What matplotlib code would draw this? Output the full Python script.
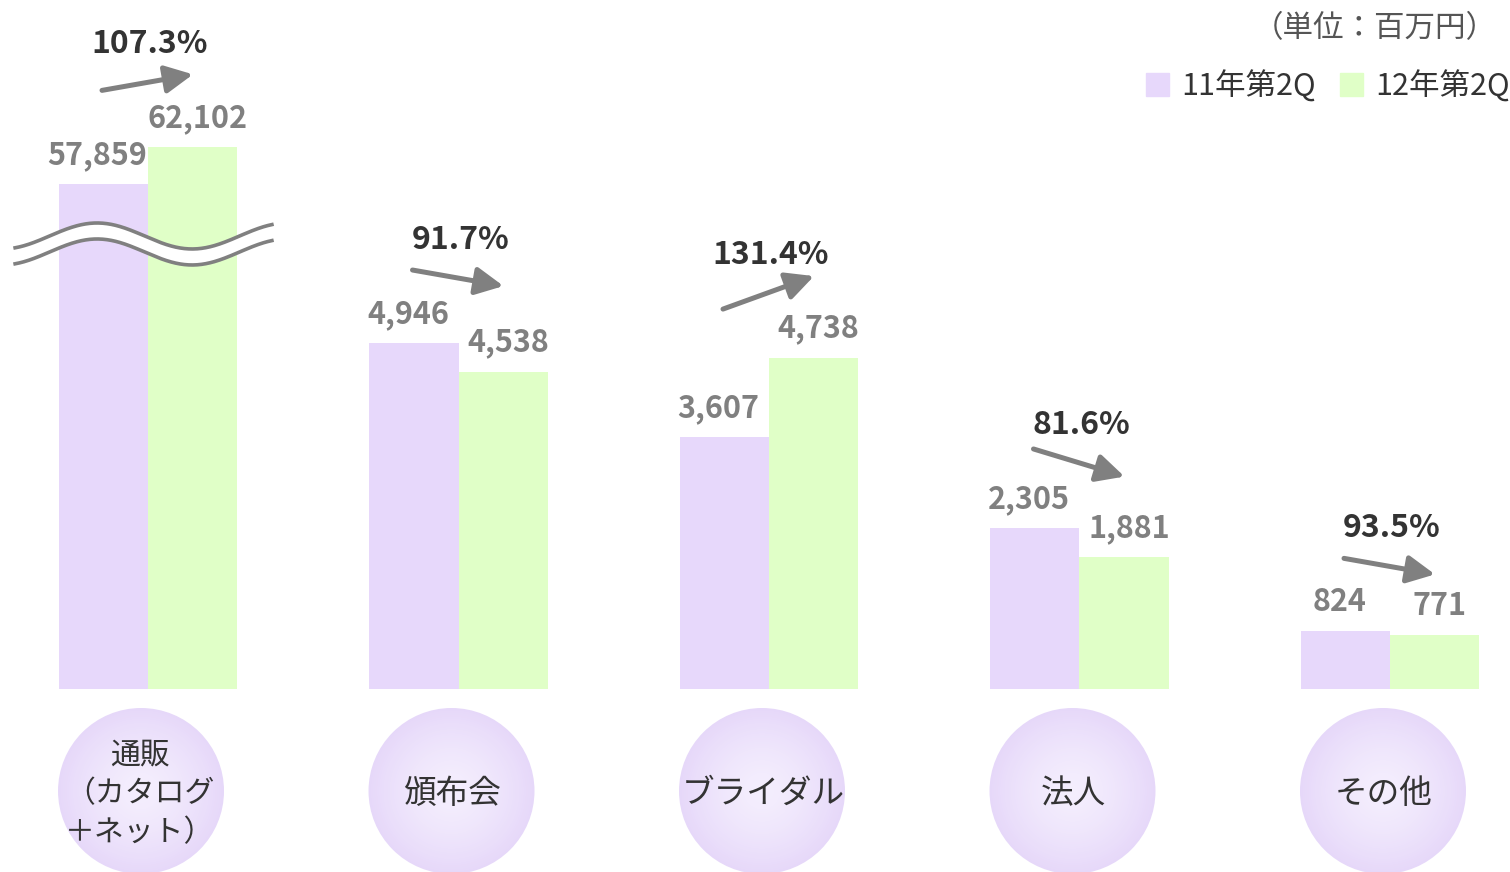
import numpy as np
import matplotlib.pyplot as plt
from matplotlib import transforms
from matplotlib.patches import Circle, Patch
from matplotlib.colors import to_rgb

plt.rcParams['font.family'] = ['Noto Sans CJK JP', 'DejaVu Sans']

# data (unit: million yen)
categories = ['通販\n（カタログ\n＋ネット）', '頒布会', 'ブライダル', '法人', 'その他']
series_names = ['11年第2Q', '12年第2Q']
sales_11 = [57859, 4946, 3607, 2305, 824]
sales_12 = [62102, 4538, 4738, 1881, 771]
growth_labels = ['107.3%', '91.7%', '131.4%', '81.6%', '93.5%']
unit_label = '（単位：百万円）'

PURPLE = '#E7D8FB'
GREEN = '#E0FFC7'
GRAY = '#808080'
DARK = '#333333'

fig = plt.figure(figsize=(15.1, 8.72), dpi=100)
ax = fig.add_axes([0, 183 / 872, 1, 689 / 872])
# the first group is drawn on its own (compressed) scale, with a break mark
ax_big = ax.twinx()

x = np.arange(len(categories))
w = 0.287
ax.set_xlim(-0.4767, 4.3865)
ax.set_ylim(0, 9850)
ax_big.set_ylim(0, 79000)
for a in (ax, ax_big):
    a.axis('off')

ax_big.bar(x[:1] - w / 2, sales_11[:1], w, color=PURPLE, zorder=2)
ax_big.bar(x[:1] + w / 2, sales_12[:1], w, color=GREEN, zorder=2)
ax.bar(x[1:] - w / 2, sales_11[1:], w, color=PURPLE, zorder=2)
ax.bar(x[1:] + w / 2, sales_12[1:], w, color=GREEN, zorder=2)

for i in range(len(categories)):
    a = ax_big if i == 0 else ax
    v1, v2 = sales_11[i], sales_12[i]
    for xi, v, dx in ((x[i] - w / 2, v1, -6), (x[i] + w / 2, v2, 5)):
        a.annotate(f'{v:,}', (xi, v), xytext=(dx, 20), textcoords='offset pixels',
                   ha='center', va='baseline', color=GRAY, fontsize=22,
                   fontweight='bold')

    # trend arrow + growth rate above the higher bar
    top = max(v1, v2)
    s = 1 if v2 > v1 else -1
    pct = float(growth_labels[i].rstrip('%'))
    span = np.clip(abs(pct - 100) * 1.5, 16, 33)
    end_tr = transforms.offset_copy(a.transData, fig=fig, x=45, y=65 + s * span / 2, units='dots')
    start_tr = transforms.offset_copy(a.transData, fig=fig, x=-46, y=65 - s * span / 2, units='dots')
    a.annotate('', xy=(x[i], top), xycoords=end_tr,
               xytext=(x[i], top), textcoords=start_tr,
               arrowprops=dict(arrowstyle='-|>', color=GRAY, lw=3.6,
                               mutation_scale=42, shrinkA=0, shrinkB=0))
    a.annotate(growth_labels[i], (x[i], top), xytext=(2, 103), textcoords='offset pixels',
               ha='center', va='center', color=DARK, fontsize=23, fontweight='bold')

# break mark across the first group
band = transforms.blended_transform_factory(ax_big.transData, ax_big.transAxes)
xs = np.linspace(-0.428, 0.399, 300)
x_peak, period = -0.164, 0.612
amp, yc, gap = 13 / 689, 0.6575, 16 / 689
y_top = yc + amp * np.cos(2 * np.pi * (xs - x_peak) / period)
y_bot = y_top - gap
ax_big.fill_between(xs, y_bot, y_top, color='white', transform=band, zorder=5, lw=0)
ax_big.plot(xs, y_top, color=GRAY, lw=2.6, transform=band, zorder=6, clip_on=False)
ax_big.plot(xs, y_bot, color=GRAY, lw=2.6, transform=band, zorder=6, clip_on=False)

# category badges below the baseline
edge_c = np.array(to_rgb('#E6D8F9'))
center_c = np.array(to_rgb('#F4EEFD'))
n_rings = 40
for i, cat in enumerate(categories):
    trans = fig.dpi_scale_trans + transforms.ScaledTranslation(x[i], 0, ax.transData)
    for k in range(n_rings, 0, -1):
        t = k / n_rings
        col = center_c + (edge_c - center_c) * t ** 1.5
        ax.add_patch(Circle((-0.07, -1.02), 0.83 * t, transform=trans,
                            facecolor=col, edgecolor='none', clip_on=False))
    multi = '\n' in cat
    ax.annotate(cat, (x[i], 0), xytext=(-8 if multi else -6, -105), textcoords='offset pixels',
                ha='center', va='center', multialignment='center',
                fontsize=21.5 if multi else 23.5, color=DARK,
                linespacing=1.32 if multi else 1.1)

handles = [Patch(color=PURPLE), Patch(color=GREEN)]
fig.legend(handles, series_names, ncol=2, frameon=False, loc='upper right',
           bbox_to_anchor=(1.0, 1 - 70 / 872), borderaxespad=0, borderpad=0,
           fontsize=22, handlelength=0.75, handleheight=0.75, handletextpad=0.4,
           columnspacing=0.8, labelcolor=DARK)
fig.text(1497 / 1510, 1 - 29 / 872, unit_label, ha='right', va='center',
         fontsize=22, color='#555555')

fig.savefig('out.png', dpi=100)
